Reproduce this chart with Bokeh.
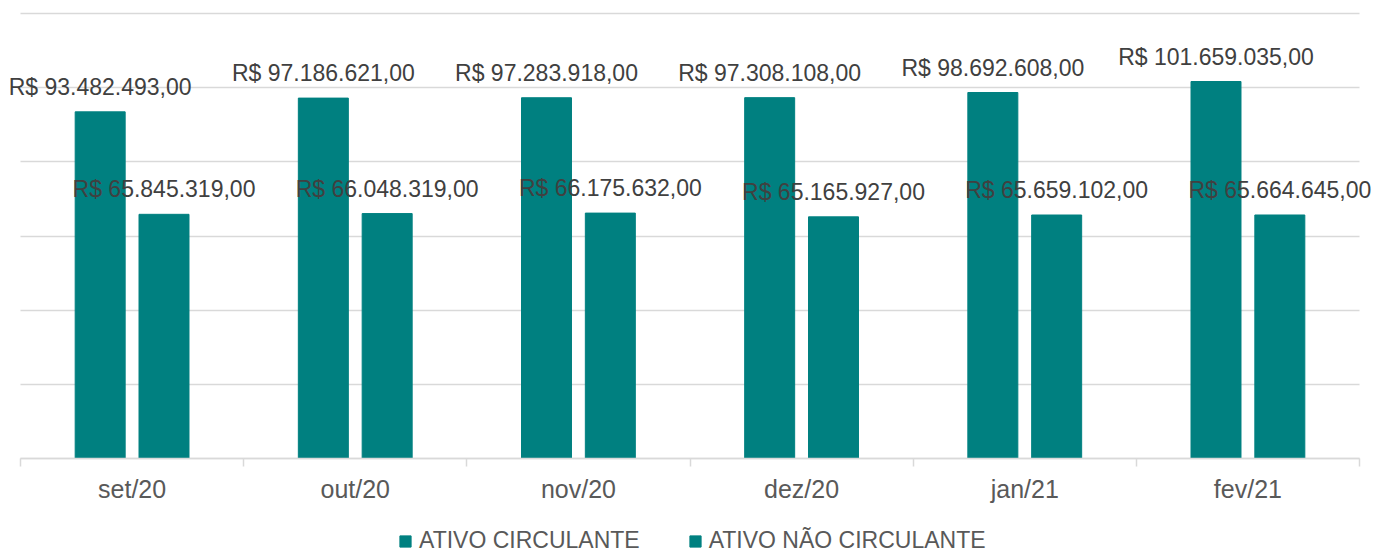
from bokeh.plotting import figure
from bokeh.models import (ColumnDataSource, LabelSet, FixedTicker, Legend, LegendItem,
                          Range1d, LinearAxis, Grid)
from bokeh.core.properties import value
from bokeh.embed import file_html
from bokeh.resources import INLINE

categories = ["set/20", "out/20", "nov/20", "dez/20", "jan/21", "fev/21"]
ativo_circulante = [93482493.00, 97186621.00, 97283918.00, 97308108.00, 98692608.00, 101659035.00]
ativo_nao_circulante = [65845319.00, 66048319.00, 66175632.00, 65165927.00, 65659102.00, 65664645.00]
series_names = ["ATIVO CIRCULANTE", "ATIVO NÃO CIRCULANTE"]
y_ticks = [0, 20000000, 40000000, 60000000, 80000000, 100000000, 120000000]

COLOR = "#008080"
FONT = "Liberation Sans"

def fmt(v):
    s = f"{v:,.2f}"
    s = s.replace(",", "X").replace(".", ",").replace("X", ".")
    return "R$ " + s

# layout (pixels)
W, H = 1394, 552
PL, PR, PT, PB = 20, 1359, 13, 458   # plot area in page pixels
n = len(categories)
ymax = y_ticks[-1]
xs_per_px = n / (PR - PL)
ys_per_px = ymax / (PB - PT)
x_range = Range1d(-PL * xs_per_px, n + (W - PR) * xs_per_px)
y_range = Range1d(-(H - PB) * ys_per_px, ymax + PT * ys_per_px)

offset = 0.143
bw = 0.224
xs = [i + 0.5 for i in range(n)]

src1 = ColumnDataSource(dict(x=[x - offset for x in xs], top=ativo_circulante,
                             label=[fmt(v) for v in ativo_circulante]))
src2 = ColumnDataSource(dict(x=[x + offset for x in xs], top=ativo_nao_circulante,
                             label=[fmt(v) for v in ativo_nao_circulante]))

p = figure(width=W, height=H, output_backend="svg", toolbar_location=None,
           x_range=x_range, y_range=y_range,
           x_axis_location=None, y_axis_location=None,
           min_border=0)
p.outline_line_color = None
p.background_fill_color = "white"
p.border_fill_color = "white"
p.grid.visible = False

grid = Grid(dimension=1, ticker=FixedTicker(ticks=y_ticks), cross_bounds=(0, n),
            grid_line_color="#d9d9d9", grid_line_width=1.5)
p.add_layout(grid)

r1 = p.vbar(x="x", top="top", width=bw, source=src1, fill_color=COLOR, line_color=COLOR)
r2 = p.vbar(x="x", top="top", width=bw, source=src2, fill_color=COLOR, line_color=COLOR)

for src in (src1, src2):
    ls = LabelSet(x="x", y="top", text="label", source=src, text_align="center",
                  text_baseline="middle", y_offset=25, text_font=value(FONT),
                  text_font_size="23px", text_color="#404040")
    p.add_layout(ls)

ax = LinearAxis(fixed_location=0, bounds=(0, n))
ax.ticker = FixedTicker(ticks=xs, minor_ticks=list(range(n + 1)))
ax.major_label_overrides = {x: c for x, c in zip(xs, categories)}
ax.major_tick_line_color = None
ax.major_tick_out = 0
ax.major_tick_in = 0
ax.minor_tick_line_color = "#d9d9d9"
ax.minor_tick_line_width = 1.5
ax.minor_tick_out = 8
ax.minor_tick_in = 0
ax.axis_line_color = "#d9d9d9"
ax.axis_line_width = 1.5
ax.major_label_text_font = FONT
ax.major_label_text_font_size = "25px"
ax.major_label_text_color = "#595959"
ax.major_label_standoff = 8
p.add_layout(ax, "below")

legend = Legend(items=[LegendItem(label=series_names[0], renderers=[r1]),
                       LegendItem(label=series_names[1], renderers=[r2])],
                orientation="horizontal", location=(398, -2),
                glyph_width=14, glyph_height=14, label_standoff=7, spacing=48,
                padding=0, margin=0, border_line_color=None,
                background_fill_alpha=0,
                label_text_font=FONT, label_text_font_size="23px",
                label_text_color="#595959", label_height=20)
p.add_layout(legend, "center")

open("out.html", "w").write(file_html(p, INLINE))
